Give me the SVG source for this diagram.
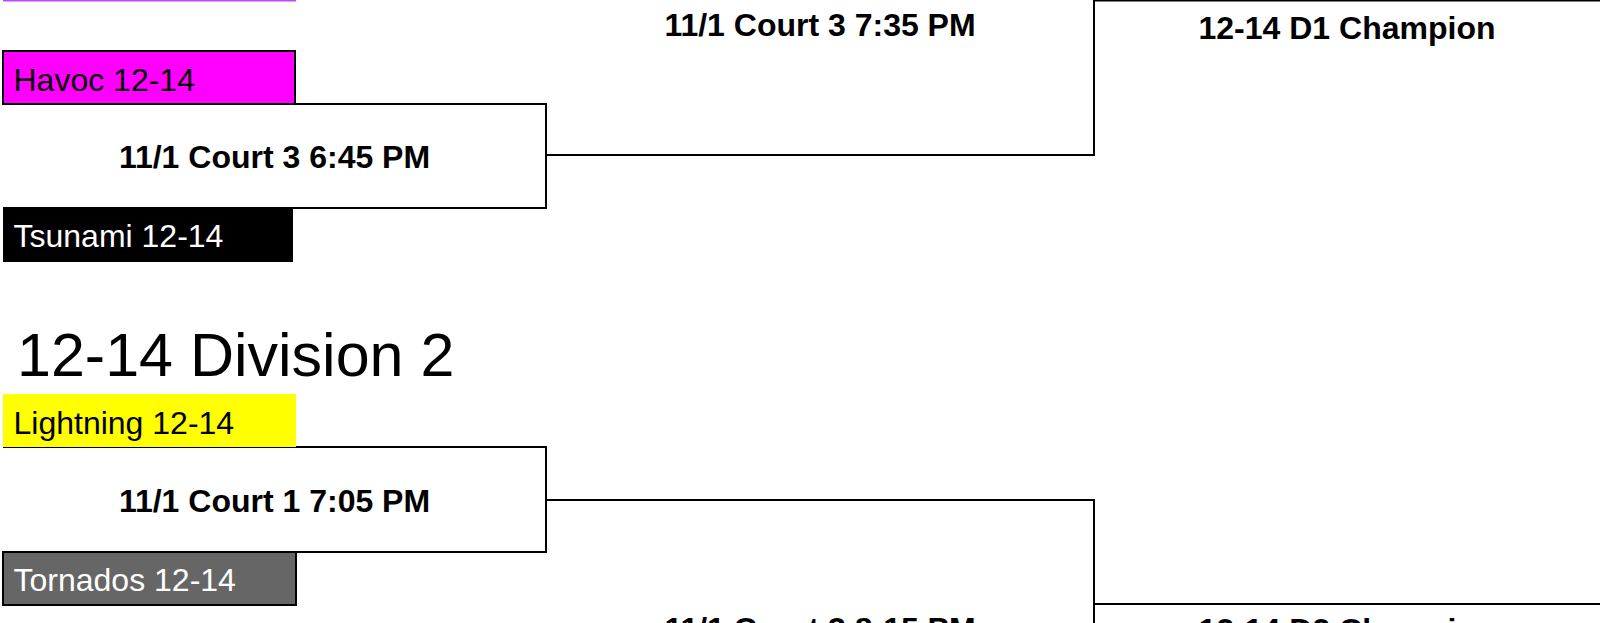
<svg xmlns="http://www.w3.org/2000/svg" width="1600" height="623" viewBox="0 0 1600 623">
  <style>
    .team { font-family: "Liberation Sans", Arial, sans-serif; font-size: 32px; }
    .match { font-family: "Liberation Sans", Arial, sans-serif; font-size: 32px; font-weight: bold; text-anchor: middle; }
    .head { font-family: "Liberation Sans", Arial, sans-serif; font-size: 61px; }
    .line { fill: none; stroke: #000; stroke-width: 2; }
    .box { fill: #fff; stroke: #000; stroke-width: 2; }
  </style>
  <rect width="1600" height="623" fill="#fff"/>

  <g id="team-prev">
    <rect x="3" y="-60" width="293" height="61.5" fill="#b94dff"/>
  </g>

  <g id="match-d1-final">
    <text class="match" x="820" y="36">11/1 Court 3 7:35 PM</text>
  </g>

  <g id="champion-d1">
    <path class="line" d="M1094,0.5 H1602"/>
    <text class="match" x="1347" y="39">12-14 D1 Champion</text>
  </g>

  <g id="match-d1-semi">
    <path class="box" d="M3,104 H546 V208 H3"/>
    <text class="match" x="274.5" y="168">11/1 Court 3 6:45 PM</text>
  </g>

  <g id="team-havoc">
    <rect x="3" y="51" width="292" height="53" fill="#ff00ff" stroke="#000" stroke-width="2"/>
    <text class="team" x="13.5" y="91" fill="#000">Havoc 12-14</text>
  </g>

  <g id="team-tsunami">
    <rect x="3" y="208" width="290" height="54" fill="#000"/>
    <text class="team" x="13.5" y="247" fill="#fff">Tsunami 12-14</text>
  </g>

  <g id="heading-d2">
    <text class="head" x="17" y="376">12-14 Division 2</text>
  </g>

  <g id="match-d2-semi">
    <path class="box" d="M3,447 H546 V552 H3"/>
    <text class="match" x="274.5" y="512">11/1 Court 1 7:05 PM</text>
  </g>

  <g id="team-lightning">
    <rect x="3" y="394" width="293" height="53" fill="#ffff00"/>
    <text class="team" x="13.5" y="434" fill="#000">Lightning 12-14</text>
  </g>

  <g id="team-tornados">
    <rect x="3" y="552" width="293" height="53" fill="#666666" stroke="#000" stroke-width="2"/>
    <text class="team" x="13.5" y="591" fill="#fff">Tornados 12-14</text>
  </g>

  <g id="match-d2-final">
    <text class="match" x="820" y="640">11/1 Court 3 8:15 PM</text>
  </g>

  <g id="champion-d2">
    <path class="line" d="M1094,604 H1602"/>
    <text class="match" x="1347" y="641">12-14 D2 Champion</text>
  </g>

  <g id="connectors">
    <path class="line" d="M546,155 H1094 V-2"/>
    <path class="line" d="M546,500 H1094 V625"/>
  </g>
</svg>
